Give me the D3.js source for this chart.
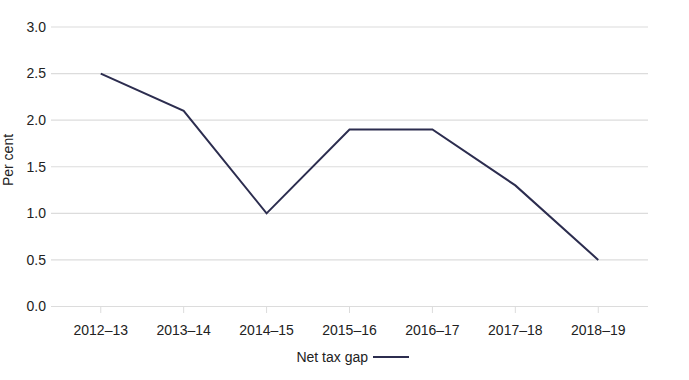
<!DOCTYPE html>
<html lang="en">
<head>
  <meta charset="utf-8">
  <title>Net tax gap</title>
  <script src="https://d3js.org/d3.v7.min.js"></script>
  <style>
    body { margin: 0; background: #fff; }
    text { font-family: "Liberation Sans", Arial, sans-serif; fill: #222; }
    .tick-label { font-size: 14px; }
  </style>
</head>
<body>
  <div id="chart"></div>
  <script>
    var years = ['2012–13', '2013–14', '2014–15', '2015–16', '2016–17', '2017–18', '2018–19'];
    var netTaxGap = [2.5, 2.1, 1.0, 1.9, 1.9, 1.3, 0.5];
    var yTicks = [0, 0.5, 1, 1.5, 2, 2.5, 3];

    var w = 689, h = 380;
    var plotLeft = 51, plotRight = 648, plotTop = 27, plotBottom = 306.5;

    var svg = d3.select('#chart').append('svg')
      .attr('width', w)
      .attr('height', h);

    var x = d3.scalePoint().domain(years).range([plotLeft, plotRight]).padding(0.6);
    var y = d3.scaleLinear().domain([0, 3]).range([plotBottom, plotTop]);

    // gridlines + y labels
    svg.selectAll('line.grid')
      .data(yTicks)
      .enter().append('line')
      .attr('class', 'grid')
      .attr('x1', plotLeft).attr('x2', plotRight)
      .attr('y1', function (d) { return y(d); })
      .attr('y2', function (d) { return y(d); })
      .attr('stroke', '#dcdcdc')
      .attr('stroke-width', 1.2);

    svg.selectAll('text.ylab')
      .data(yTicks)
      .enter().append('text')
      .attr('class', 'ylab tick-label')
      .attr('x', 46)
      .attr('y', function (d) { return y(d); })
      .attr('dy', '.35em')
      .attr('text-anchor', 'end')
      .text(function (d) { return d3.format('.1f')(d); });

    // x ticks + labels
    svg.selectAll('line.xtick')
      .data(years)
      .enter().append('line')
      .attr('class', 'xtick')
      .attr('x1', function (d) { return x(d); })
      .attr('x2', function (d) { return x(d); })
      .attr('y1', plotBottom).attr('y2', plotBottom + 6.5)
      .attr('stroke', '#dcdcdc')
      .attr('stroke-width', 1);

    svg.selectAll('text.xlab')
      .data(years)
      .enter().append('text')
      .attr('class', 'xlab tick-label')
      .attr('x', function (d) { return x(d); })
      .attr('y', 330)
      .attr('dy', '.35em')
      .attr('text-anchor', 'middle')
      .text(function (d) { return d; });

    // y axis title
    svg.append('text')
      .attr('class', 'tick-label')
      .attr('transform', 'translate(8,160) rotate(-90)')
      .attr('dy', '.35em')
      .attr('text-anchor', 'middle')
      .text('Per cent');

    // line
    var line = d3.line()
      .x(function (d, i) { return x(years[i]); })
      .y(function (d) { return y(d); });

    svg.append('path')
      .datum(netTaxGap)
      .attr('d', line)
      .attr('fill', 'none')
      .attr('stroke', '#2c2d4f')
      .attr('stroke-width', 2);

    // legend
    svg.append('text')
      .attr('class', 'tick-label')
      .attr('x', 368)
      .attr('y', 357)
      .attr('dy', '.35em')
      .attr('text-anchor', 'end')
      .text('Net tax gap');

    svg.append('line')
      .attr('x1', 373).attr('x2', 409)
      .attr('y1', 357).attr('y2', 357)
      .attr('stroke', '#2c2d4f')
      .attr('stroke-width', 2);
  </script>
</body>
</html>
